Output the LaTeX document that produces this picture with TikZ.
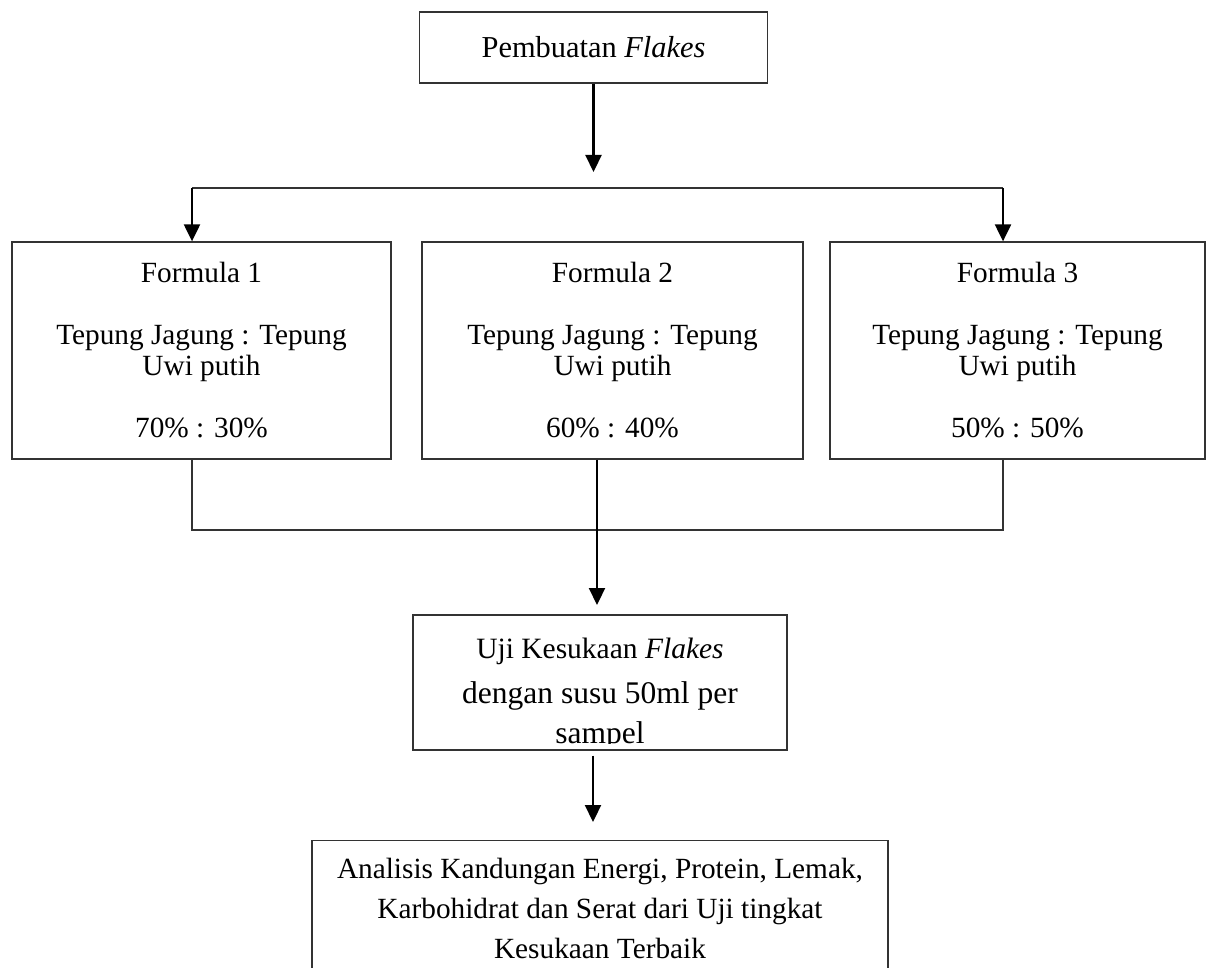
\documentclass[tikz,border=0pt]{standalone}
\usepackage{fontspec}
\setmainfont{Liberation Serif}
\usetikzlibrary{arrows.meta}
\begin{document}
\begin{tikzpicture}[x=1pt,y=-1pt,
  box/.style={draw=black!80, line width=1.3pt, inner sep=0pt, align=center,
    font=\fontsize{29.3}{31}\selectfont},
  frame/.style={draw=black!80, line width=1.3pt, inner sep=0pt},
  txt/.style={inner sep=0pt, align=center, anchor=north},
  arr/.style={draw=black, line width=2.2pt, -{Triangle[width=16pt,length=17pt]}},
  conn/.style={draw=black!80, line width=1.1pt}]
\clip (0,0) rectangle (1206,968);
\fill[white] (0,0) rectangle (1206,968);

% top box
\node[box, font=\fontsize{30.4}{31}\selectfont, minimum width=348pt, minimum height=71pt] (top) at (593.5,47.5) {Pembuatan \textit{Flakes}};

% formula boxes
\node[box, minimum width=379pt, minimum height=217pt] (f1) at (201.5,350.5)
  {Formula 1\\[31pt]Tepung Jagung : Tepung\\Uwi putih\\[31pt]70\% : 30\%};
\node[box, minimum width=381pt, minimum height=217pt] (f2) at (612.5,350.5)
  {Formula 2\\[31pt]Tepung Jagung : Tepung\\Uwi putih\\[31pt]60\% : 40\%};
\node[box, minimum width=375pt, minimum height=217pt] (f3) at (1017.5,350.5)
  {Formula 3\\[31pt]Tepung Jagung : Tepung\\Uwi putih\\[31pt]50\% : 50\%};

% uji box
\node[frame, minimum width=374pt, minimum height=135pt] (uji) at (600,682.5) {};
\begin{scope}
  \clip (413,615) rectangle (787,743);
  \node[txt, font=\fontsize{31.5}{40}\selectfont] (ujit) at (600,638)
    {{\fontsize{29.5}{40}\selectfont Uji Kesukaan \textit{Flakes}}\\[5pt]dengan susu 50ml per\\sampel};
\end{scope}

% analysis box (open at the bottom of the picture)
\node[frame, minimum width=576pt, minimum height=180pt, anchor=north] (ana) at (600,840) {};
\node[txt, font=\fontsize{29.3}{40}\selectfont] (anat) at (600,858)
  {Analisis Kandungan Energi, Protein, Lemak,\\Karbohidrat dan Serat dari Uji tingkat\\Kesukaan Terbaik};

% connectors
\coordinate (a1) at (593.5,172);
\coordinate (hl) at (192,188);
\coordinate (hr) at (1003,188);
\draw[arr] (top.south) -- (a1);
\draw[conn] (hl) -- (hr);
\draw[arr] (hl) -- (hl |- f1.north);
\draw[arr] (hr) -- (hr |- f3.north);

\coordinate (bl) at (192,530);
\coordinate (br) at (1003,530);
\draw[conn] (bl |- f1.south) -- (bl) -- (br) -- (br |- f3.south);

\coordinate (m2) at (597,605);
\draw[arr] (f2.south -| m2) -- (m2);

\coordinate (a3) at (593,822);
\draw[arr, shorten <=5pt] (uji.south -| a3) -- (a3);
\end{tikzpicture}
\end{document}
